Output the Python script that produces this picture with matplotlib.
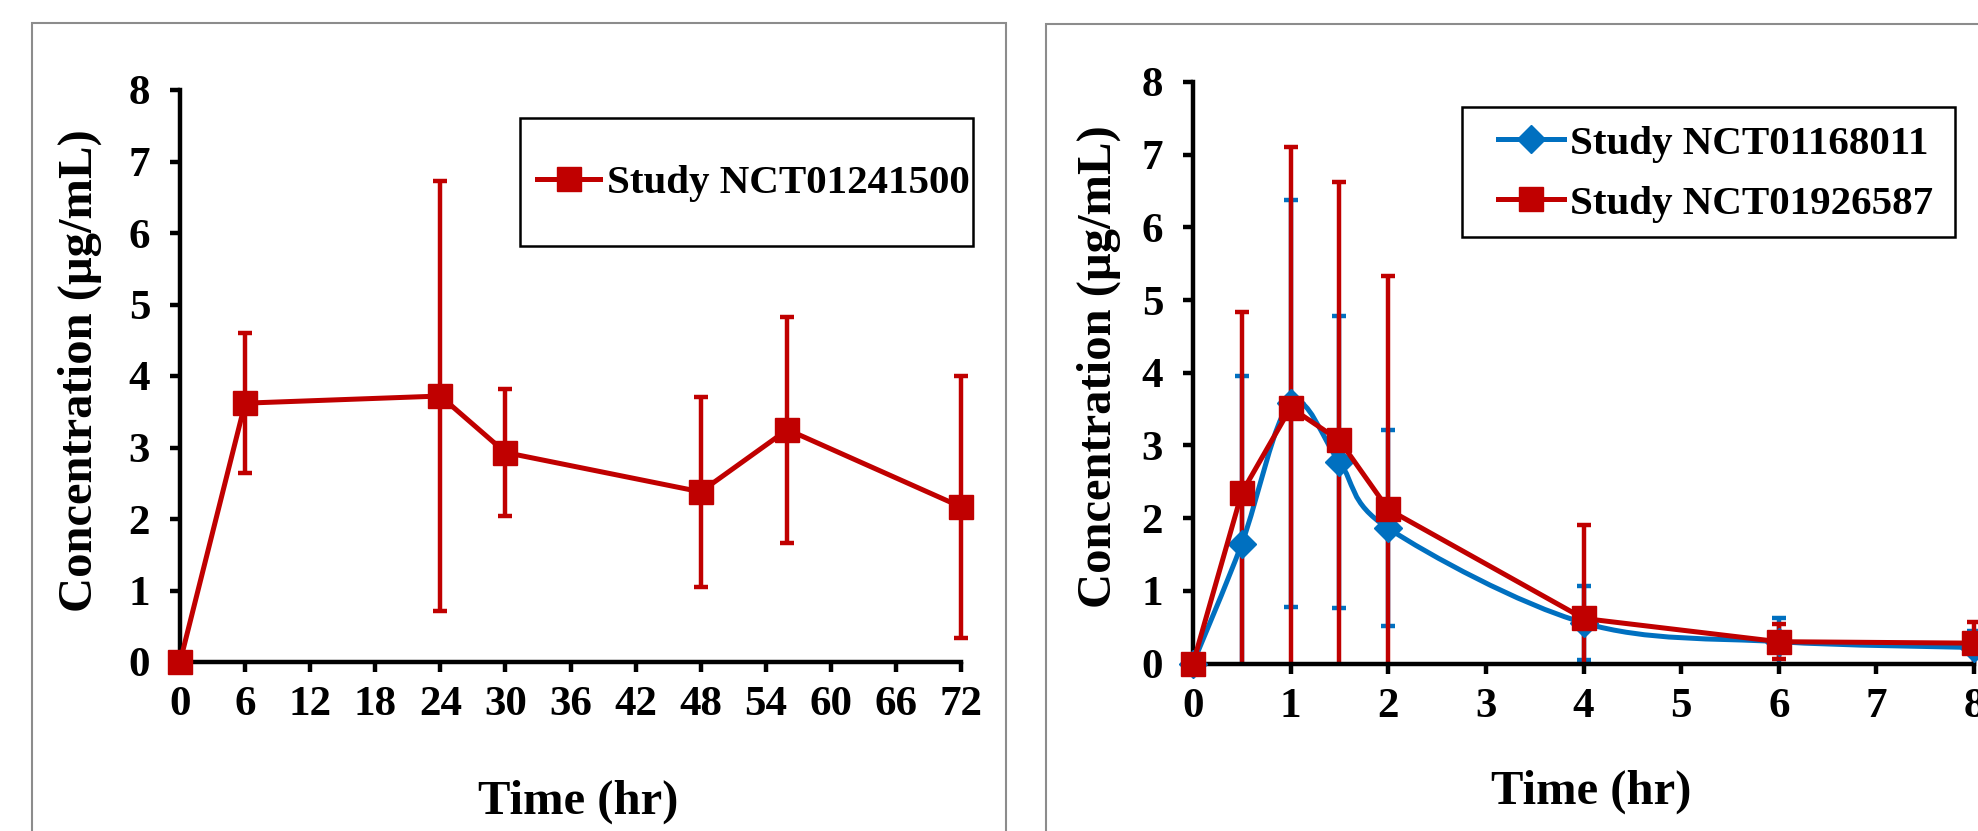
import numpy as np
import matplotlib
matplotlib.use('Agg')
import matplotlib.pyplot as plt
from matplotlib.path import Path
from matplotlib.patches import PathPatch, Rectangle
from matplotlib.lines import Line2D

plt.rcParams['font.family'] = ['Liberation Serif', 'DejaVu Serif']
plt.rcParams['font.weight'] = 'bold'

# ---- left panel data: Study NCT01241500
t_a = [0, 6, 24, 30, 48, 56, 72]
c_a = [0, 3.62, 3.72, 2.93, 2.38, 3.25, 2.17]
sd_a = [0, 0.98, 3.01, 0.89, 1.33, 1.58, 1.83]

# ---- right panel data
t_b = [0, 0.5, 1, 1.5, 2, 4, 6, 8]
c_blue = [0, 1.65, 3.58, 2.77, 1.86, 0.56, 0.30, 0.22]
sd_blue = [0, 2.30, 2.80, 2.01, 1.35, 0.51, 0.33, 0.23]
c_red = [0, 2.35, 3.52, 3.07, 2.12, 0.62, 0.30, 0.28]
sd_red = [0, 2.48, 3.58, 3.56, 3.21, 1.28, 0.24, 0.29]

RED = '#C00000'
BLUE = '#0070C0'
TICK_FS = 31
LABEL_FS = 35
LEG_FS = 29.5

fig = plt.figure(figsize=(19.78, 8.31), dpi=100)

# panel frames
fig.patches.append(Rectangle((32 / 1978, -0.05), (1006 - 32) / 1978, 1.05 - 23 / 831,
                             transform=fig.transFigure, fill=False, ec='#8c8c8c', lw=1.5))
fig.patches.append(Rectangle((1046 / 1978, -0.05), 0.6, 1.05 - 24 / 831,
                             transform=fig.transFigure, fill=False, ec='#8c8c8c', lw=1.5))


def style_axes(ax, xlim, xticks, xlab_pos, ylab_pos):
    ax.set_xlim(*xlim)
    ax.set_ylim(0, 8)
    ax.set_xticks(xticks)
    ax.set_yticks(range(0, 9))
    for s in ['top', 'right']:
        ax.spines[s].set_visible(False)
    for s in ['left', 'bottom']:
        ax.spines[s].set_linewidth(3.2)
    ax.tick_params(width=3.2, length=7.5, direction='out', labelsize=TICK_FS)
    ax.tick_params(axis='x', pad=10)
    ax.tick_params(axis='y', pad=14)
    for lab in ax.get_xticklabels() + ax.get_yticklabels():
        lab.set_fontweight('bold')
    ax.set_ylabel('Concentration (μg/mL)', fontsize=LABEL_FS, fontweight='bold', va='center')
    ax.set_xlabel('Time (hr)', fontsize=LABEL_FS, fontweight='bold', va='center')
    ax.yaxis.set_label_coords(*ylab_pos)
    ax.xaxis.set_label_coords(*xlab_pos)


def err_bars(ax, x, y, sd, color, z):
    # lower bars stop at the x axis, like the original chart's clipping
    y = np.asarray(y, float)
    sd = np.asarray(sd, float)
    low = np.minimum(sd, y)
    eb = ax.errorbar(x, y, yerr=[low, sd], fmt='none', ecolor=color, elinewidth=3.2,
                     capsize=5, capthick=3.2, zorder=z)
    for art in eb.lines[1] + eb.lines[2]:
        art.set_clip_on(False)
    # hide the cap that would sit on the axis when a bar is cut there
    caps_low = eb.lines[1][0]
    xs, ys = caps_low.get_data()
    keep = np.asarray(low) >= np.asarray(sd)
    caps_low.set_data(np.asarray(xs)[keep], np.asarray(ys)[keep])


def smooth_path(x, y):
    # Excel-style smoothed line (Catmull-Rom as cubic Bezier)
    pts = np.column_stack([x, y]).astype(float)
    n = len(pts)
    verts = [pts[0]]
    codes = [Path.MOVETO]
    for i in range(n - 1):
        p0 = pts[i - 1] if i > 0 else pts[i]
        p1 = pts[i]
        p2 = pts[i + 1]
        p3 = pts[i + 2] if i + 2 < n else pts[i + 1]
        c1 = p1 + (p2 - p0) / 6.0
        c2 = p2 - (p3 - p1) / 6.0
        verts += [c1, c2, p2]
        codes += [Path.CURVE4] * 3
    return Path(verts, codes)


def legend_box(ax, x0, y0, x1, y1):
    ax.add_patch(Rectangle((x0, y0), x1 - x0, y1 - y0, transform=ax.transAxes,
                           fill=False, ec='black', lw=1.8, clip_on=False, zorder=5))


# ---------------- left panel
ax1 = fig.add_axes([180 / 1978, 1 - 662 / 831, 781 / 1978, 572 / 831])
style_axes(ax1, (0, 72), range(0, 73, 6), (0.51, -0.245), (-0.128, 0.51))
err_bars(ax1, t_a, c_a, sd_a, RED, 2)
ax1.plot(t_a, c_a, color=RED, lw=3.6, marker='s', ms=17, mfc=RED, mec=RED,
         clip_on=False, zorder=3, label='Study NCT01241500')
legend_box(ax1, 0.435, 0.727, 1.015, 0.951)
ax1.legend(loc='center left', bbox_to_anchor=(0.457, 0.837), frameon=False,
           handlelength=1.55, handletextpad=0.16, borderpad=0, borderaxespad=0,
           prop={'weight': 'bold', 'size': LEG_FS})

# ---------------- right panel
ax2 = fig.add_axes([1193 / 1978, 1 - 663.5 / 831, 781 / 1978, 581.5 / 831])
style_axes(ax2, (0, 8), range(0, 9), (0.51, -0.22), (-0.12, 0.51))
err_bars(ax2, t_b, c_blue, sd_blue, BLUE, 2)
err_bars(ax2, t_b, c_red, sd_red, RED, 2.5)
ax2.add_patch(PathPatch(smooth_path(t_b, c_blue), fill=False, ec=BLUE, lw=3.6,
                        zorder=3, clip_on=False))
ax2.plot(t_b, c_blue, ls='none', marker='D', ms=14, mfc=BLUE, mec=BLUE,
         clip_on=False, zorder=3)
ax2.plot(t_b, c_red, color=RED, lw=3.6, marker='s', ms=17, mfc=RED, mec=RED,
         clip_on=False, zorder=4)
handles = [Line2D([], [], color=BLUE, lw=3.6, marker='D', ms=14),
           Line2D([], [], color=RED, lw=3.6, marker='s', ms=17)]
legend_box(ax2, 0.344, 0.733, 0.976, 0.957)
ax2.legend(handles, ['Study NCT01168011', 'Study NCT01926587'],
           loc='center left', bbox_to_anchor=(0.391, 0.842), frameon=False,
           handlelength=1.6, handletextpad=0.16, borderpad=0, borderaxespad=0,
           labelspacing=0.55, prop={'weight': 'bold', 'size': LEG_FS})

fig.savefig('out.png', dpi=100)
